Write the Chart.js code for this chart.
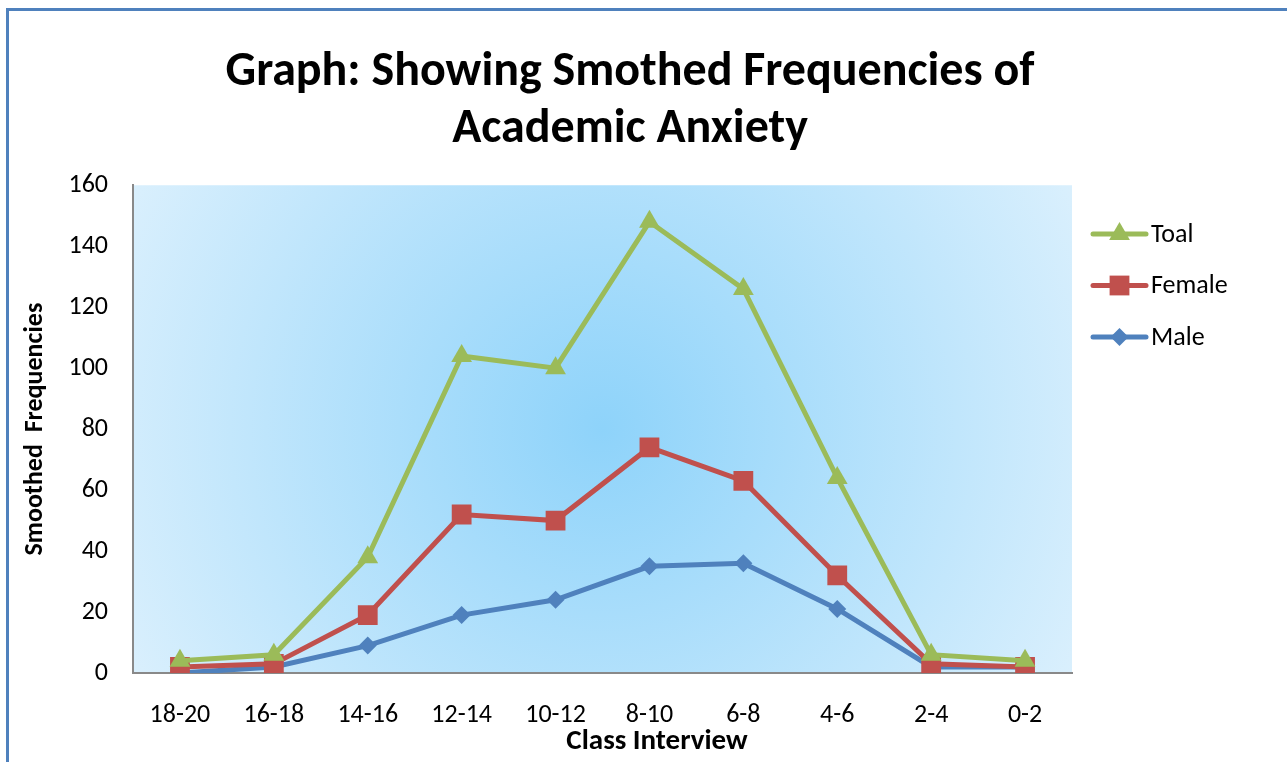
<!DOCTYPE html>
<html lang="en">
<head>
    <meta charset="UTF-8">
    <title>Graph: Showing Smothed Frequencies of Academic Anxiety</title>
    <script src="https://cdn.jsdelivr.net/npm/chart.js"></script>
    <style>
        html, body {
            margin: 0;
            height: 100%;
            background: #ffffff;
            overflow: hidden;
        }
        .frame {
            position: absolute;
            left: 6px;
            top: 8px;
            right: -10px;
            bottom: -10px;
            border-left: 3px solid #4f81bd;
            border-top: 3px solid #4f81bd;
        }
        .chart-box {
            position: absolute;
            left: 0;
            top: 0;
            width: 1287px;
            height: 762px;
        }
    </style>
</head>
<body>
    <div class="frame"></div>
    <div class="chart-box">
        <canvas id="chart"></canvas>
    </div>

    <script>
        var classes = ['18-20', '16-18', '14-16', '12-14', '10-12', '8-10', '6-8', '4-6', '2-4', '0-2'];
        var toalValues = [4, 6, 38, 104, 100, 148, 126, 64, 6, 4];
        var femaleValues = [2, 3, 19, 52, 50, 74, 63, 32, 3, 2];
        var maleValues = [0, 2, 9, 19, 24, 35, 36, 21, 2, 2];
        var yTicks = [0, 20, 40, 60, 80, 100, 120, 140, 160];

        var fontFamily = 'Carlito, Lato, "Open Sans", sans-serif';

        // gradient behind the plot area
        var plotBackground = {
            id: 'plotBackground',
            beforeDraw: function(chart) {
                var ctx = chart.ctx, a = chart.chartArea;
                var cx = (a.left + a.right) / 2, cy = (a.top + a.bottom) / 2;
                var g = ctx.createRadialGradient(cx, cy, 0, cx, cy, 540);
                g.addColorStop(0, '#8ed3fa');
                g.addColorStop(1, '#dbf0fd');
                ctx.save();
                ctx.fillStyle = g;
                ctx.fillRect(a.left, a.top, a.right - a.left, a.bottom - a.top);
                ctx.restore();
            }
        };

        // legend with line + marker, and the x axis title
        var sideLegend = {
            id: 'sideLegend',
            afterDraw: function(chart) {
                var ctx = chart.ctx;
                ctx.save();
                chart.data.datasets.forEach(function(ds, i) {
                    var y = 234 + i * 51.5;
                    ctx.strokeStyle = ds.borderColor;
                    ctx.lineWidth = 5;
                    ctx.lineCap = 'round';
                    ctx.beginPath();
                    ctx.moveTo(1093, y);
                    ctx.lineTo(1146, y);
                    ctx.stroke();
                    ctx.fillStyle = ds.backgroundColor;
                    Chart.helpers.drawPoint(ctx, {
                        pointStyle: ds.pointStyle,
                        radius: ds.pointRadius,
                        rotation: 0,
                        borderWidth: 0
                    }, 1119.5, y);
                    ctx.fillStyle = '#000000';
                    ctx.font = '26px ' + fontFamily;
                    ctx.textBaseline = 'middle';
                    ctx.textAlign = 'left';
                    ctx.fillText(ds.label, 1151, y + 1);
                });
                ctx.font = 'bold 29px ' + fontFamily;
                ctx.textAlign = 'center';
                ctx.textBaseline = 'middle';
                ctx.fillText('Class Interview', 657, 742);
                ctx.restore();
            }
        };

        var ctx = document.getElementById('chart').getContext('2d');
        var chart = new Chart(ctx, {
            type: 'line',
            data: {
                labels: classes,
                datasets: [{
                    label: 'Toal',
                    data: toalValues,
                    borderColor: '#9bbb59',
                    backgroundColor: '#9bbb59',
                    borderWidth: 5,
                    pointStyle: 'triangle',
                    pointRadius: 12,
                    pointBorderWidth: 0,
                    tension: 0
                }, {
                    label: 'Female',
                    data: femaleValues,
                    borderColor: '#c0504d',
                    backgroundColor: '#c0504d',
                    borderWidth: 5,
                    pointStyle: 'rect',
                    pointRadius: 14,
                    pointBorderWidth: 0,
                    tension: 0
                }, {
                    label: 'Male',
                    data: maleValues,
                    borderColor: '#4f81bd',
                    backgroundColor: '#4f81bd',
                    borderWidth: 5,
                    pointStyle: 'rectRot',
                    pointRadius: 9,
                    pointBorderWidth: 0,
                    tension: 0
                }]
            },
            options: {
                responsive: true,
                maintainAspectRatio: false,
                animation: false,
                events: [],
                layout: {
                    padding: { left: 0, right: 27, top: 0, bottom: 0 }
                },
                plugins: {
                    legend: { display: false },
                    tooltip: { enabled: false },
                    title: {
                        display: true,
                        text: ['Graph: Showing Smothed Frequencies of', 'Academic Anxiety'],
                        color: '#000000',
                        font: { family: fontFamily, size: 48, weight: 'bold', lineHeight: 1.19 },
                        padding: { top: 44, bottom: 27 }
                    }
                },
                scales: {
                    x: {
                        type: 'category',
                        offset: true,
                        grid: { display: false, drawTicks: false },
                        border: { color: '#898989', width: 2 },
                        ticks: {
                            color: '#000000',
                            font: { family: fontFamily, size: 26 },
                            padding: 27,
                            maxRotation: 0
                        },
                        afterFit: function(scale) { scale.height = 89; }
                    },
                    y: {
                        min: 0,
                        max: 160,
                        afterBuildTicks: function(scale) {
                            scale.ticks = yTicks.map(function(v) { return { value: v }; });
                        },
                        grid: { display: false, drawTicks: false },
                        border: { color: '#898989', width: 2 },
                        ticks: {
                            color: '#000000',
                            font: { family: fontFamily, size: 26 },
                            padding: 25
                        },
                        title: {
                            display: true,
                            text: 'Smoothed  Frequencies',
                            color: '#000000',
                            font: { family: fontFamily, size: 26, weight: 'bold', lineHeight: 1.2 },
                            padding: { top: 20, bottom: 0 }
                        },
                        afterFit: function(scale) { scale.width = 133; }
                    },
                    // empty box that holds room for the legend on the right
                    legendRoom: {
                        position: 'right',
                        display: true,
                        grid: { display: false, drawTicks: false },
                        border: { display: false },
                        ticks: { display: false },
                        afterFit: function(scale) { scale.width = 188; }
                    }
                }
            },
            plugins: [plotBackground, sideLegend]
        });
    </script>
</body>
</html>
